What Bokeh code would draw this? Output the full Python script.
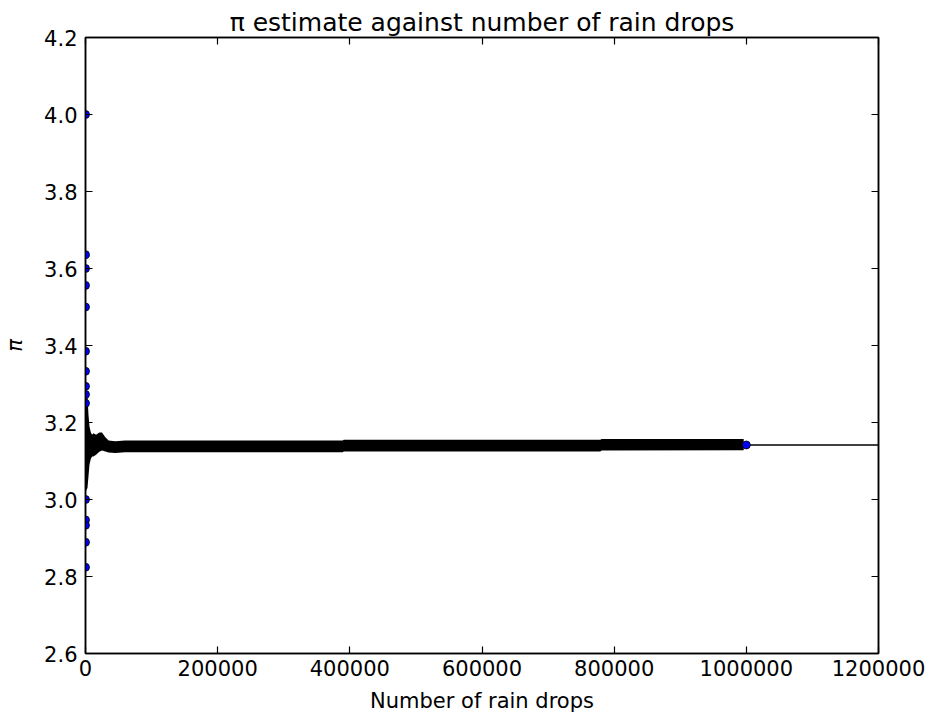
import math
from bokeh.plotting import figure
from bokeh.models import LinearAxis, FixedTicker, PrintfTickFormatter, Range1d, CustomJSTickFormatter
from bokeh.embed import file_html
from bokeh.resources import INLINE

# ---- data ----
TITLE = "π estimate against number of rain drops"
X_LABEL = "Number of rain drops"
Y_LABEL = "π"

x_ticks = [0, 200000, 400000, 600000, 800000, 1000000, 1200000]
y_ticks = [2.6, 2.8, 3.0, 3.2, 3.4, 3.6, 3.8, 4.0, 4.2]

# dense part of the running estimate, drawn as its envelope (hi / lo)
band_x  = [0, 3000, 4500, 6000, 8000, 10000, 12000, 16000, 21000, 25000, 30000, 35000,
           45000, 60000, 389000, 391000, 779000, 781000, 996000]
band_hi = [3.300, 3.270, 3.220, 3.190, 3.175, 3.168, 3.172, 3.168, 3.174, 3.174, 3.162, 3.153,
           3.151, 3.153, 3.153, 3.155, 3.155, 3.157, 3.157]
band_lo = [3.020, 3.030, 3.060, 3.090, 3.105, 3.112, 3.112, 3.116, 3.124, 3.127, 3.125, 3.122,
           3.121, 3.123, 3.123, 3.125, 3.125, 3.127, 3.128]

# individual estimates that stand apart (early drops and the last one)
pts_x = [1, 11, 5, 9, 2, 13, 3, 17, 11, 4, 6, 19, 15, 9, 17, 1000000]
pts_y = [4.000, 3.636, 3.600, 3.556, 3.500, 3.385, 3.333, 3.294, 3.273, 3.250,
         3.000, 2.947, 2.933, 2.889, 2.824, 3.1416]

# reference value of pi
pi_x = [0, 1200000]
pi_y = [math.pi, math.pi]

FONT = "DejaVu Sans"

p = figure(width=930, height=715, output_backend="svg", toolbar_location=None,
           x_range=Range1d(0, 1200000), y_range=Range1d(2.6, 4.2),
           min_border_left=85, min_border_right=52, min_border_top=37, min_border_bottom=62)

p.title.text = TITLE
p.title.align = "center"
p.title.text_font = FONT
p.title.text_font_size = "25px"
p.title.text_font_style = "normal"
p.title.text_color = "black"
p.title.standoff = 2

p.xgrid.visible = False
p.ygrid.visible = False
p.outline_line_color = "black"
p.outline_line_width = 1.5
p.background_fill_color = "white"
p.border_fill_color = "white"

p.varea(x=band_x, y1=band_lo, y2=band_hi, fill_color="black")
p.line(x=pi_x, y=pi_y, line_color="black", line_width=1.5)
p.scatter(x=pts_x, y=pts_y, size=8, marker="circle", fill_color="#0000ff",
          line_color="black", line_width=0.8)

def style_axis(ax, labels=True):
    ax.major_tick_in = 7
    ax.major_tick_out = 0
    ax.minor_tick_line_color = None
    ax.major_tick_line_color = "black"
    ax.major_tick_line_width = 1.2
    ax.axis_line_color = "black"
    ax.axis_line_width = 1.5
    ax.major_label_text_font = FONT
    ax.major_label_text_color = "black"
    ax.major_label_text_font_size = "21px"
    if not labels:
        ax.formatter = CustomJSTickFormatter(code="return '';")
        ax.major_label_standoff = 0

xax = p.xaxis[0]
yax = p.yaxis[0]
xax.ticker = FixedTicker(ticks=x_ticks)
yax.ticker = FixedTicker(ticks=y_ticks)
xax.formatter = PrintfTickFormatter(format="%d")
yax.formatter = PrintfTickFormatter(format="%.1f")
style_axis(xax)
style_axis(yax)
xax.major_label_standoff = 6
yax.major_label_standoff = 8

xax.axis_label = X_LABEL
xax.axis_label_text_font = FONT
xax.axis_label_text_font_size = "21px"
xax.axis_label_text_font_style = "normal"
xax.axis_label_text_color = "black"
xax.axis_label_standoff = 10

yax.axis_label = Y_LABEL
yax.axis_label_text_font = FONT
yax.axis_label_text_font_size = "21px"
yax.axis_label_text_font_style = "italic"
yax.axis_label_text_color = "black"
yax.axis_label_standoff = 14

rax = LinearAxis(ticker=FixedTicker(ticks=y_ticks))
style_axis(rax, labels=False)
p.add_layout(rax, "right")

tax = LinearAxis(ticker=FixedTicker(ticks=x_ticks))
style_axis(tax, labels=False)
p.add_layout(tax, "above")

open("out.html", "w").write(file_html(p, INLINE))
